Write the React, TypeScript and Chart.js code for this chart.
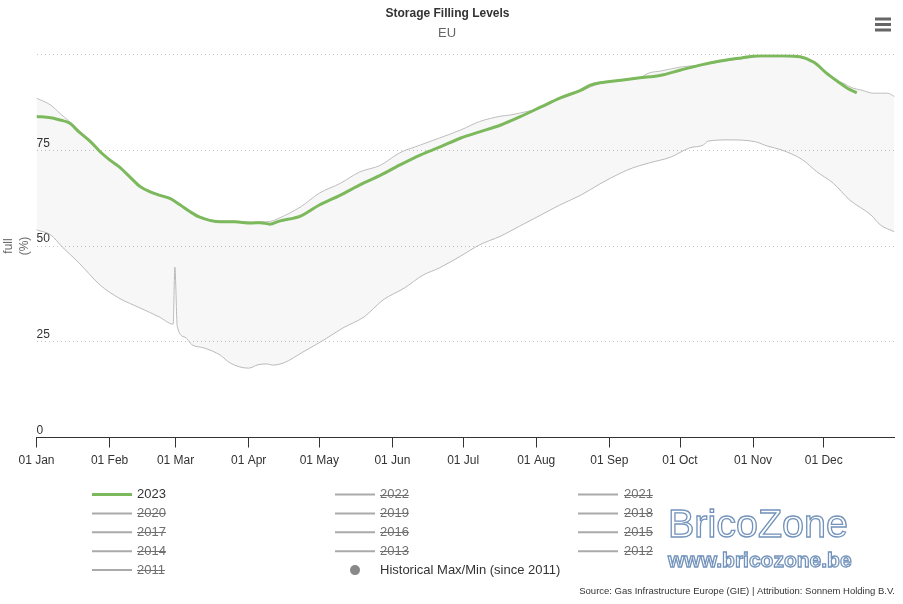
import React, { useEffect, useRef } from 'react';
import { Chart, registerables } from 'chart.js';

Chart.register(...registerables);

// ---- axis data ----
const MONTH_DAYS = [0, 31, 59, 90, 120, 151, 181, 212, 243, 273, 304, 334];
const MONTH_LABELS = ['01 Jan', '01 Feb', '01 Mar', '01 Apr', '01 May', '01 Jun', '01 Jul', '01 Aug', '01 Sep', '01 Oct', '01 Nov', '01 Dec'];

// ---- 2023 filling level (day of year, % full) ----
const DAYS_2023 = [0, 6, 10, 14, 18, 23, 27, 31, 35, 40, 44, 48, 52, 57, 61, 65, 69, 78, 84, 91, 95, 99, 103, 112, 120, 129, 137, 146, 154, 163, 171, 180, 188, 197, 205, 214, 222, 231, 235, 239, 248, 256, 265, 273, 282, 290, 299, 307, 316, 324, 330, 335, 340, 344, 348];
const VALUES_2023 = [83.8, 83.5, 82.9, 82.1, 79.8, 77.2, 74.6, 72.5, 70.7, 67.8, 65.5, 64.2, 63.3, 62.3, 60.7, 59.0, 57.6, 56.3, 56.3, 56.0, 56.1, 55.7, 56.5, 57.8, 60.7, 63.3, 65.9, 68.5, 71.1, 73.8, 75.8, 78.2, 79.8, 81.6, 83.7, 86.3, 88.6, 90.7, 92.0, 92.6, 93.3, 93.9, 94.6, 95.9, 97.3, 98.3, 99.1, 99.7, 99.7, 99.4, 97.9, 95.2, 92.9, 91.2, 90.0];

// ---- historical max (since 2011) ----
const MAX_DAYS = [0, 6, 10, 14, 18, 23, 27, 31, 35, 40, 44, 48, 52, 57, 61, 65, 69, 78, 84, 91, 95, 99, 103, 112, 120, 129, 137, 146, 154, 163, 171, 180, 188, 197, 201, 205, 214, 222, 231, 239, 248, 256, 260, 265, 273, 282, 290, 299, 307, 316, 324, 330, 335, 339, 342, 346, 350, 355, 361, 364];
const MAX_VALUES = [88.6, 86.8, 84.6, 82.5, 80.1, 77.4, 74.8, 72.7, 70.9, 68.0, 65.7, 64.4, 63.5, 62.5, 60.9, 59.2, 57.8, 56.5, 56.5, 56.2, 56.3, 56.4, 57.3, 60.2, 63.8, 66.4, 69.3, 71.1, 74.3, 76.4, 78.2, 80.3, 82.5, 83.9, 84.2, 84.7, 86.1, 88.4, 90.5, 92.4, 93.2, 94.0, 95.2, 95.7, 96.7, 97.3, 98.1, 98.9, 99.4, 99.4, 99.2, 97.8, 95.3, 93.2, 92.6, 91.3, 90.7, 89.9, 89.9, 89.0];

// ---- historical min (since 2011) ----
const MIN_DAYS = [0, 6, 11, 18, 27, 35, 44, 52, 58, 58.7, 59.7, 63, 66, 71, 78, 82, 90, 94, 98, 100, 105, 113, 122, 130, 139, 147, 156, 164, 171, 180, 188, 197, 205, 214, 222, 231, 239, 248, 253, 260, 269, 277, 283, 285, 294, 305, 310, 316, 325, 331, 338, 345, 354, 358, 364];
const MIN_VALUES = [54.2, 52.9, 49.7, 45.6, 39.8, 36.4, 33.8, 31.5, 29.6, 44.5, 29.0, 26.2, 24.2, 23.4, 21.5, 19.5, 18.1, 19.0, 19.2, 18.9, 19.5, 22.3, 25.5, 28.6, 31.5, 35.9, 39.0, 42.4, 44.3, 47.4, 50.3, 52.6, 55.2, 58.1, 60.7, 63.3, 66.2, 69.1, 70.4, 71.7, 73.2, 75.6, 76.4, 77.4, 77.7, 77.2, 76.1, 75.1, 72.5, 69.4, 66.4, 62.0, 58.1, 55.5, 53.7];

// ---- legend ----
const LEGEND_ITEMS = ['2023', '2022', '2021', '2020', '2019', '2018', '2017', '2016', '2015', '2014', '2013', '2012', '2011', 'Historical Max/Min (since 2011)'];
const HIDDEN_ITEMS = ['2022', '2021', '2020', '2019', '2018', '2017', '2016', '2015', '2014', '2013', '2012', '2011'];
const RANGE_ITEM = 'Historical Max/Min (since 2011)';

const TITLE = 'Storage Filling Levels';
const SUBTITLE = 'EU';
const SOURCE = 'Source: Gas Infrastructure Europe (GIE) | Attribution: Sonnem Holding B.V.';
const WATERMARK_1 = 'BricoZone';
const WATERMARK_2 = 'www.bricozone.be';

const FONT = '"Liberation Sans", Arial, Helvetica, sans-serif';
const GREEN = '#7cb85c';
const RANGE_LINE = '#bdbdbd';

const toPoints = (xs: number[], ys: number[]) => xs.map((x, i) => ({ x, y: ys[i] }));

const decorPlugin = {
  id: 'decor',
  afterDraw(chart: any) {
    const ctx: CanvasRenderingContext2D = chart.ctx;
    ctx.save();
    // title & subtitle
    ctx.textAlign = 'center';
    ctx.textBaseline = 'middle';
    ctx.fillStyle = '#333333';
    ctx.font = `bold 12px ${FONT}`;
    ctx.fillText(TITLE, 447.5, 14);
    ctx.fillStyle = '#666666';
    ctx.font = `13px ${FONT}`;
    ctx.fillText(SUBTITLE, 447, 33);

    // menu icon
    ctx.fillStyle = '#666666';
    [17.5, 23, 28.5].forEach((y) => ctx.fillRect(875, y, 16, 3));

    // legend
    const colX = [92, 335, 578];
    LEGEND_ITEMS.forEach((label, i) => {
      const col = i % 3;
      const row = Math.floor(i / 3);
      const lx = colX[col];
      const ly = 494.5 + row * 18.9;
      const hidden = HIDDEN_ITEMS.includes(label);
      if (label === RANGE_ITEM) {
        ctx.fillStyle = '#888888';
        ctx.beginPath();
        ctx.arc(lx + 20, ly, 5, 0, Math.PI * 2);
        ctx.fill();
      } else {
        ctx.strokeStyle = label === '2023' ? GREEN : '#aaaaaa';
        ctx.lineWidth = label === '2023' ? 3 : 2;
        ctx.beginPath();
        ctx.moveTo(lx, ly);
        ctx.lineTo(lx + 40, ly);
        ctx.stroke();
      }
      ctx.font = `13px ${FONT}`;
      ctx.textAlign = 'left';
      ctx.textBaseline = 'middle';
      const tx = lx + (col === 2 ? 46 : 45);
      ctx.fillStyle = hidden ? '#707070' : '#333333';
      ctx.fillText(label, tx, ly);
      if (hidden) {
        const w = ctx.measureText(label).width;
        ctx.strokeStyle = '#707070';
        ctx.lineWidth = 1;
        ctx.beginPath();
        ctx.moveTo(tx, Math.round(ly) + 0.5);
        ctx.lineTo(tx + w, Math.round(ly) + 0.5);
        ctx.stroke();
      }
    });

    // watermark
    ctx.textAlign = 'left';
    ctx.textBaseline = 'alphabetic';
    ctx.strokeStyle = '#7393bb';
    ctx.fillStyle = 'rgba(255,255,255,0.9)';
    ctx.lineWidth = 1.3;
    ctx.font = `39.5px ${FONT}`;
    ctx.fillText(WATERMARK_1, 668, 537);
    ctx.strokeText(WATERMARK_1, 668, 537);
    ctx.font = `bold 21px ${FONT}`;
    ctx.fillText(WATERMARK_2, 668, 567);
    ctx.strokeText(WATERMARK_2, 668, 567);

    // source
    ctx.textAlign = 'right';
    ctx.textBaseline = 'middle';
    ctx.fillStyle = '#333333';
    ctx.font = `9.5px ${FONT}`;
    ctx.fillText(SOURCE, 895, 591);
    ctx.restore();
  },
};

export default function App() {
  const ref = useRef<HTMLCanvasElement>(null);

  useEffect(() => {
    if (!ref.current) return;
    Chart.defaults.font.family = FONT;
    const chart = new Chart(ref.current, {
      type: 'line',
      data: {
        datasets: [
          {
            label: '2023',
            data: toPoints(DAYS_2023, VALUES_2023),
            borderColor: GREEN,
            borderWidth: 3,
            pointRadius: 0,
            fill: false,
            cubicInterpolationMode: 'monotone',
          },
          {
            label: 'Historical Max',
            data: toPoints(MAX_DAYS, MAX_VALUES),
            borderColor: RANGE_LINE,
            borderWidth: 1,
            pointRadius: 0,
            backgroundColor: 'rgba(0,0,0,0.032)',
            fill: '+1',
            cubicInterpolationMode: 'monotone',
          },
          {
            label: 'Historical Min',
            data: toPoints(MIN_DAYS, MIN_VALUES),
            borderColor: RANGE_LINE,
            borderWidth: 1,
            pointRadius: 0,
            fill: false,
            cubicInterpolationMode: 'monotone',
          },
        ],
      },
      options: {
        responsive: false,
        animation: false,
        devicePixelRatio: 1,
        events: [],
        layout: { padding: { top: 54.5, right: 8.5, bottom: 136.5, left: 0 } },
        plugins: {
          legend: { display: false },
          tooltip: { enabled: false },
          title: { display: false },
        },
        scales: {
          x: {
            type: 'linear',
            min: 0,
            max: 364,
            afterBuildTicks: (scale: any) => {
              scale.ticks = MONTH_DAYS.map((v) => ({ value: v }));
            },
            afterFit: (scale: any) => {
              scale.height = 30;
            },
            ticks: {
              autoSkip: false,
              maxRotation: 0,
              padding: 6,
              color: '#333333',
              font: { size: 12, family: FONT },
              callback: (_v: any, i: number) => MONTH_LABELS[i],
            },
            grid: {
              display: true,
              drawOnChartArea: false,
              drawTicks: true,
              tickLength: 10,
              tickColor: '#333333',
              tickWidth: 1,
            },
            border: { display: true, color: '#333333', width: 1 },
          },
          y: {
            type: 'linear',
            min: 0,
            max: 100,
            afterFit: (scale: any) => {
              scale.width = 36.5;
            },
            ticks: {
              stepSize: 25,
              mirror: true,
              padding: 0,
              labelOffset: -7,
              color: '#333333',
              font: { size: 12, family: FONT },
              callback: (v: any) => (v === 100 ? '' : String(v)),
            },
            grid: {
              display: true,
              drawTicks: false,
              color: '#c4c4c4',
              lineWidth: 1,
            },
            border: { display: false, dash: [1, 3] },
            title: {
              display: true,
              text: ['full', '(%)'],
              color: '#666666',
              font: { size: 12, family: FONT, lineHeight: 1.3 },
              padding: { top: 1, bottom: 0 },
            },
          },
        },
      },
      plugins: [decorPlugin],
    } as any);
    return () => chart.destroy();
  }, []);

  return (
    <div style={{ position: 'fixed', left: 0, top: 0, width: 903, height: 604, background: '#ffffff' }}>
      <canvas ref={ref} width={903} height={604} style={{ display: 'block' }} />
    </div>
  );
}
